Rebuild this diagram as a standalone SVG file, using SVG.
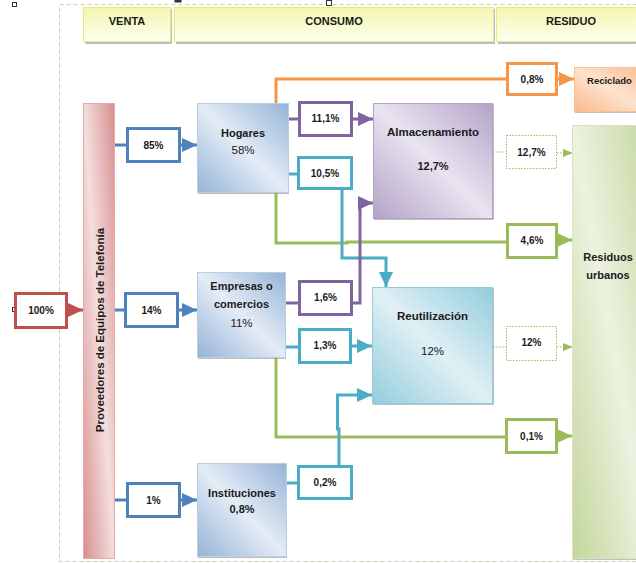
<svg xmlns="http://www.w3.org/2000/svg" width="636" height="563" viewBox="0 0 636 563">
<defs>
<style>
text{font-family:"Liberation Sans",Arial,sans-serif;font-weight:bold;fill:#1a1a1a;text-anchor:middle}
.hdr{font-size:11px}
.big{font-size:11px}
.pct{font-size:10px}
.lbl{fill:#fff;stroke-width:3}
.ln{fill:none;stroke-width:3}
.blue{stroke:#4f81bd}.red{stroke:#c0504d}.purple{stroke:#8064a2}.teal{stroke:#4bacc6}.green{stroke:#9bbb59}.orange{stroke:#f79646}
.dot{fill:none;stroke:#9bbb59;stroke-width:1;stroke-dasharray:1.5,1.5}
.shadow{fill:#8a8a8a;opacity:0.55}
</style>
<linearGradient id="gHdr" x1="0" y1="0" x2="0" y2="1"><stop offset="0" stop-color="#f2f7ae"/><stop offset="1" stop-color="#fdfff0"/></linearGradient>
<linearGradient id="gBlue" x1="0" y1="1" x2="1" y2="0"><stop offset="0" stop-color="#95b3d7"/><stop offset="0.5" stop-color="#e4ecf6"/><stop offset="1" stop-color="#95b3d7"/></linearGradient>
<linearGradient id="gPurple" x1="0" y1="1" x2="1" y2="0"><stop offset="0" stop-color="#b3a2c7"/><stop offset="0.5" stop-color="#e9e4f0"/><stop offset="1" stop-color="#b3a2c7"/></linearGradient>
<linearGradient id="gTeal" x1="0" y1="1" x2="1" y2="0"><stop offset="0" stop-color="#93cddd"/><stop offset="0.5" stop-color="#e0f0f5"/><stop offset="1" stop-color="#93cddd"/></linearGradient>
<linearGradient id="gRed" x1="0" y1="1" x2="1" y2="0"><stop offset="0" stop-color="#d88f8f"/><stop offset="0.5" stop-color="#f4dede"/><stop offset="1" stop-color="#d88f8f"/></linearGradient>
<linearGradient id="gGreen" x1="0" y1="1" x2="1" y2="0"><stop offset="0" stop-color="#c3d69b"/><stop offset="0.5" stop-color="#ecf2e0"/><stop offset="1" stop-color="#c3d69b"/></linearGradient>
<linearGradient id="gOrange" x1="0" y1="1" x2="1" y2="0"><stop offset="0" stop-color="#fab98a"/><stop offset="0.5" stop-color="#fde3cf"/><stop offset="1" stop-color="#fab98a"/></linearGradient>
<marker id="aBlue" markerUnits="userSpaceOnUse" markerWidth="16" markerHeight="16" refX="15" refY="7" orient="auto"><path d="M0,0 L15,7 L0,14 z" fill="#4f81bd"/></marker>
<marker id="aRed" markerUnits="userSpaceOnUse" markerWidth="16" markerHeight="16" refX="15" refY="7" orient="auto"><path d="M0,0 L15,7 L0,14 z" fill="#c0504d"/></marker>
<marker id="aPurple" markerUnits="userSpaceOnUse" markerWidth="16" markerHeight="16" refX="15" refY="7" orient="auto"><path d="M0,0 L15,7 L0,14 z" fill="#8064a2"/></marker>
<marker id="aTeal" markerUnits="userSpaceOnUse" markerWidth="16" markerHeight="16" refX="15" refY="7" orient="auto"><path d="M0,0 L15,7 L0,14 z" fill="#4bacc6"/></marker>
<marker id="aGreen" markerUnits="userSpaceOnUse" markerWidth="16" markerHeight="16" refX="15" refY="7" orient="auto"><path d="M0,0 L15,7 L0,14 z" fill="#9bbb59"/></marker>
<marker id="aOrange" markerUnits="userSpaceOnUse" markerWidth="16" markerHeight="16" refX="15" refY="7" orient="auto"><path d="M0,0 L15,7 L0,14 z" fill="#f79646"/></marker>
<marker id="aDot" markerUnits="userSpaceOnUse" markerWidth="12" markerHeight="10" refX="10" refY="4" orient="auto"><path d="M0,0 L10,4 L0,8 z" fill="#9bbb59"/></marker>
</defs>
<rect width="636" height="563" fill="#fff"/>
<rect x="59.5" y="4.5" width="640" height="557" fill="none" stroke="#c3d69b" stroke-width="1" stroke-dasharray="4,3"/>
<g fill="#fff" stroke="#333" stroke-width="1">
<rect x="12.5" y="2.5" width="4" height="4"/>
<rect x="12.5" y="307.5" width="4" height="4"/>
<rect x="326.5" y="0.5" width="5" height="5"/>
<rect x="175" y="-2" width="6" height="4" fill="#333"/>
</g>

<g id="headers">
<g id="venta"><rect x="85" y="9" width="87" height="35" class="shadow"/><rect x="83.5" y="7.5" width="87" height="34" fill="url(#gHdr)" stroke="#e4ec7e"/><text class="hdr" x="127" y="25">VENTA</text></g>
<g id="consumo"><rect x="176" y="9" width="319" height="35" class="shadow"/><rect x="174.5" y="7.5" width="319" height="34" fill="url(#gHdr)" stroke="#e4ec7e"/><text class="hdr" x="334" y="25">CONSUMO</text></g>
<g id="residuo"><rect x="498" y="9" width="160" height="35" class="shadow"/><rect x="496.5" y="7.5" width="160" height="34" fill="url(#gHdr)" stroke="#e4ec7e"/><text class="hdr" x="571" y="25">RESIDUO</text></g>
</g>

<g id="connectors">
<path class="ln red" d="M67,310 H83" marker-end="url(#aRed)"/>
<path class="ln blue" d="M115,145 H126"/>
<path class="ln blue" d="M180,145 H197" marker-end="url(#aBlue)"/>
<path class="ln blue" d="M115,310 H124"/>
<path class="ln blue" d="M179,310 H197" marker-end="url(#aBlue)"/>
<path class="ln blue" d="M115,500 H126"/>
<path class="ln blue" d="M180,500 H197" marker-end="url(#aBlue)"/>
<path class="ln orange" d="M276,103 V79 H506"/>
<path class="ln orange" d="M557,79 H574" marker-end="url(#aOrange)"/>
<path class="ln green" d="M276,193 V243 H347 V242 H506"/>
<path class="ln green" d="M557,240 H572" marker-end="url(#aGreen)"/>
<path class="ln green" d="M276,358 V437 H505"/>
<path class="ln green" d="M557,436 H572" marker-end="url(#aGreen)"/>
<path class="dot" d="M493,152 H506"/>
<path class="dot" d="M557,153 H573" marker-end="url(#aDot)"/>
<path class="dot" d="M493,347 H506"/>
<path class="dot" d="M557,347 H573" marker-end="url(#aDot)"/>
<path class="ln teal" d="M289,174 H297"/>
<path class="ln teal" d="M342,189 V258 H386 V287" marker-end="url(#aTeal)"/>
<path class="ln teal" d="M286,347 H298"/>
<path class="ln teal" d="M351,346 H372" marker-end="url(#aTeal)"/>
<path class="ln teal" d="M287,483 H297"/>
<path class="ln teal" d="M339,465 V429 H337.5 V395 H372" marker-end="url(#aTeal)"/>
<path class="ln purple" d="M289,119 H298"/>
<path class="ln purple" d="M352,119 H373" marker-end="url(#aPurple)"/>
<path class="ln purple" d="M286,303 H298"/>
<path class="ln purple" d="M352,303 H360 V203 H373" marker-end="url(#aPurple)"/>
</g>

<g id="proveedores"><rect x="83.5" y="103.5" width="31" height="455" fill="url(#gRed)" stroke="#e6a8a8"/><text transform="translate(104,330) rotate(-90)" style="font-size:11.5px">Proveedores de Equipos de Telefonía</text></g>
<g id="n100"><rect x="15.5" y="293.5" width="51" height="34" class="lbl red"/><text class="pct" x="41" y="314">100%</text></g>
<g id="n85"><rect x="127.5" y="128.5" width="52" height="33" class="lbl blue"/><text class="pct" x="153.5" y="149">85%</text></g>
<g id="n14"><rect x="125.5" y="293.5" width="52" height="33" class="lbl blue"/><text class="pct" x="151.5" y="314">14%</text></g>
<g id="n1"><rect x="127.5" y="483.5" width="52" height="33" class="lbl blue"/><text class="pct" x="153.5" y="504">1%</text></g>

<g id="hogares"><rect x="198" y="104" width="91" height="90" class="shadow"/><rect x="197.5" y="103.5" width="91" height="89" fill="url(#gBlue)" stroke="#b9cde5"/><text class="big" x="243" y="137">Hogares</text><text class="big" x="243" y="154" style="font-weight:normal;font-size:11.5px">58%</text></g>
<g id="empresas"><rect x="198" y="273" width="88" height="86" class="shadow"/><rect x="197.5" y="272.5" width="88" height="85" fill="url(#gBlue)" stroke="#b9cde5"/><text class="big" x="241.5" y="290">Empresas o</text><text class="big" x="241.5" y="308">comercios</text><text class="big" x="241.5" y="327" style="font-weight:normal;font-size:11.5px">11%</text></g>
<g id="instituciones"><rect x="198" y="464" width="89" height="94" class="shadow"/><rect x="197.5" y="463.5" width="89" height="93" fill="url(#gBlue)" stroke="#b9cde5"/><text class="big" x="242" y="497">Instituciones</text><text class="big" x="242" y="513">0,8%</text></g>

<g id="n111"><rect x="299.5" y="102.5" width="52" height="33" class="lbl purple"/><text class="pct" x="325.5" y="122">11,1%</text></g>
<g id="n105"><rect x="298.5" y="157.5" width="53" height="31" class="lbl teal"/><text class="pct" x="325" y="177">10,5%</text></g>
<g id="n16"><rect x="299.5" y="281.5" width="52" height="33" class="lbl purple"/><text class="pct" x="325.5" y="301">1,6%</text></g>
<g id="n13"><rect x="299.5" y="329.5" width="51" height="33" class="lbl teal"/><text class="pct" x="325" y="349">1,3%</text></g>
<g id="n02"><rect x="298.5" y="466.5" width="53" height="32" class="lbl teal"/><text class="pct" x="325" y="486">0,2%</text></g>

<g id="almacenamiento"><rect x="374" y="104" width="120" height="116" class="shadow"/><rect x="373.5" y="103.5" width="119" height="115" fill="url(#gPurple)" stroke="#b3a2c7"/><text x="433" y="136" style="font-size:11.5px">Almacenamiento</text><text class="big" x="433" y="170">12,7%</text></g>
<g id="reutilizacion"><rect x="373" y="288" width="121" height="117" class="shadow"/><rect x="372.5" y="287.5" width="120" height="116" fill="url(#gTeal)" stroke="#93cddd"/><text x="432.5" y="320" style="font-size:11.5px">Reutilización</text><text class="big" x="432.5" y="355" style="font-weight:normal;font-size:11.5px">12%</text></g>

<g id="n08"><rect x="507.5" y="63.5" width="49" height="31" class="lbl orange"/><text class="pct" x="532" y="83">0,8%</text></g>
<g id="n127"><rect x="506.5" y="135.5" width="50" height="33" fill="#fff" class="dot"/><text class="pct" x="531.5" y="156">12,7%</text></g>
<g id="n46"><rect x="507.5" y="224.5" width="49" height="33" class="lbl green"/><text class="pct" x="532" y="244">4,6%</text></g>
<g id="n12"><rect x="506.5" y="326.5" width="50" height="34" fill="#fff" class="dot"/><text class="pct" x="531.5" y="346">12%</text></g>
<g id="n01"><rect x="506.5" y="419.5" width="50" height="33" class="lbl green"/><text class="pct" x="531.5" y="440">0,1%</text></g>

<g id="reciclado"><rect x="575" y="68" width="75" height="45" class="shadow"/><rect x="574.5" y="67.5" width="75" height="44" fill="url(#gOrange)" stroke="#fac090"/><text x="609.5" y="84" style="font-size:9.5px">Reciclado</text></g>
<g id="residuos"><rect x="573" y="126" width="80" height="434" class="shadow"/><rect x="572.5" y="125.5" width="80" height="433" fill="url(#gGreen)" stroke="#d7e4bd"/><text class="big" x="608" y="261">Residuos</text><text class="big" x="608" y="279">urbanos</text></g>
</svg>
